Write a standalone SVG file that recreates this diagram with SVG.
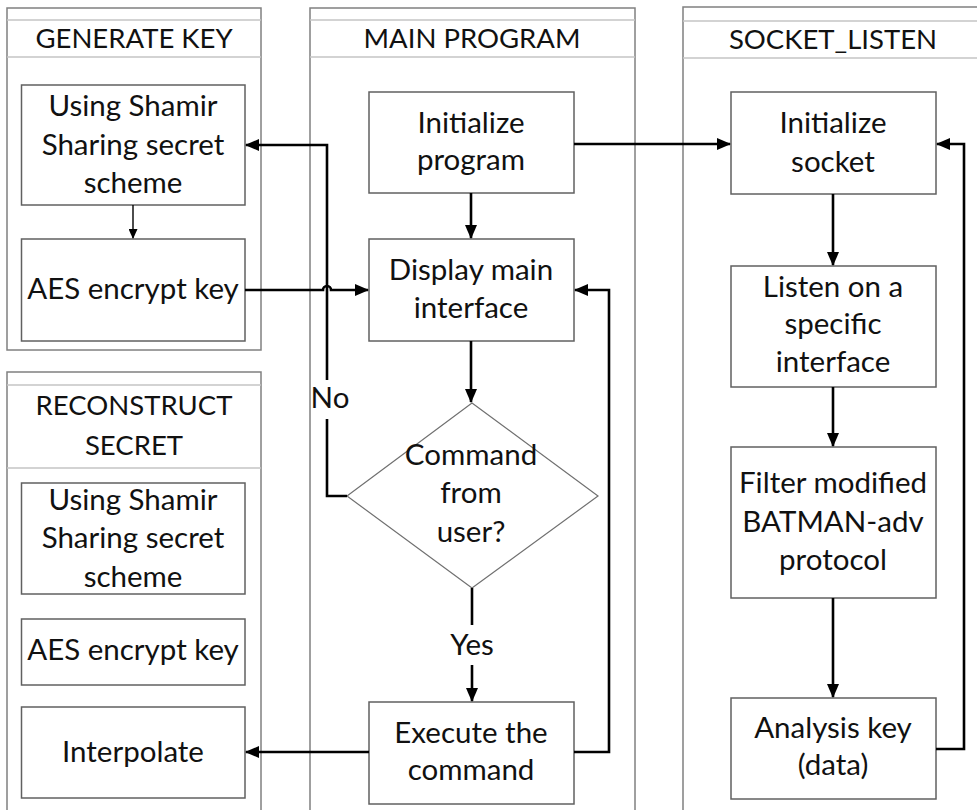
<svg xmlns="http://www.w3.org/2000/svg" width="977" height="810" viewBox="0 0 977 810">
<style>
.lane{fill:#fff;stroke:#808080;stroke-width:1.5}
.hl{stroke:#c4c4c4;stroke-width:1.3;fill:none}
.box{fill:#fff;stroke:#606060;stroke-width:1.5}
.dia{fill:#fff;stroke:#707070;stroke-width:1.2}
.t{font-family:Lato,"Liberation Sans",sans-serif;font-size:29.5px;fill:#111;text-anchor:middle}
.h{font-size:27.5px}
.c{fill:none;stroke:#000;stroke-width:2.6}
.thin{fill:none;stroke:#000;stroke-width:1.4}
</style>
<defs>
<marker id="ah" markerUnits="userSpaceOnUse" markerWidth="14" markerHeight="12" refX="13" refY="6" orient="auto">
<path d="M0,0 L14,6 L0,12 Z" fill="#000"/>
</marker>
<marker id="ahs" markerUnits="userSpaceOnUse" markerWidth="10" markerHeight="9" refX="9" refY="4.5" orient="auto">
<path d="M0,0 L10,4.5 L0,9 Z" fill="#000"/>
</marker>
</defs>
<rect width="977" height="810" fill="#fff"/>

<g id="lane-generate">
<rect class="lane" x="7" y="8" width="254" height="342"/>
<line class="hl" x1="7" y1="20" x2="261" y2="20"/>
<line class="hl" x1="7" y1="57" x2="261" y2="57"/>
<text class="t h" x="134" y="48">GENERATE KEY</text>
</g>
<g id="lane-main">
<rect class="lane" x="310" y="8" width="325" height="810"/>
<line class="hl" x1="310" y1="20" x2="635" y2="20"/>
<line class="hl" x1="310" y1="57" x2="635" y2="57"/>
<text class="t h" x="472" y="48">MAIN PROGRAM</text>
</g>
<g id="lane-socket">
<rect class="lane" x="683" y="7" width="310" height="810"/>
<line class="hl" x1="683" y1="21" x2="977" y2="21"/>
<line class="hl" x1="683" y1="58" x2="977" y2="58"/>
<text class="t h" x="833" y="49">SOCKET_LISTEN</text>
</g>
<g id="lane-reconstruct">
<rect class="lane" x="7" y="372" width="254" height="446"/>
<line class="hl" x1="7" y1="385" x2="261" y2="385"/>
<line class="hl" x1="7" y1="468" x2="261" y2="468"/>
<text class="t h" x="134" y="415">RECONSTRUCT</text>
<text class="t h" x="134" y="455">SECRET</text>
</g>

<g id="gen-shamir">
<rect class="box" x="21.5" y="85" width="223.5" height="120"/>
<text class="t" x="133" y="116">Using Shamir</text>
<text class="t" x="133" y="155">Sharing secret</text>
<text class="t" x="133" y="193">scheme</text>
</g>
<g id="gen-aes">
<rect class="box" x="21.5" y="239" width="223.5" height="102"/>
<text class="t" x="133" y="299">AES encrypt key</text>
</g>

<g id="rec-shamir">
<rect class="box" x="21.5" y="483" width="223.5" height="111"/>
<text class="t" x="133" y="510">Using Shamir</text>
<text class="t" x="133" y="548">Sharing secret</text>
<text class="t" x="133" y="587">scheme</text>
</g>
<g id="rec-aes">
<rect class="box" x="21.5" y="619" width="223.5" height="66"/>
<text class="t" x="133" y="660">AES encrypt key</text>
</g>
<g id="rec-interpolate">
<rect class="box" x="21.5" y="707" width="223.5" height="91"/>
<text class="t" x="133" y="762">Interpolate</text>
</g>

<g id="init-program">
<rect class="box" x="369" y="92" width="205" height="101"/>
<text class="t" x="471" y="133">Initialize</text>
<text class="t" x="471" y="170">program</text>
</g>
<g id="display-main">
<rect class="box" x="369" y="239" width="205" height="102"/>
<text class="t" x="471" y="280">Display main</text>
<text class="t" x="471" y="318">interface</text>
</g>
<g id="decision">
<polygon class="dia" points="472,403 598,496 472,588 347,496"/>
<text class="t" x="471" y="465">Command</text>
<text class="t" x="471" y="503">from</text>
<text class="t" x="471" y="542">user?</text>
</g>
<g id="execute">
<rect class="box" x="369" y="702" width="205" height="102"/>
<text class="t" x="471" y="743">Execute the</text>
<text class="t" x="471" y="780">command</text>
</g>

<g id="init-socket">
<rect class="box" x="731" y="92" width="205" height="102"/>
<text class="t" x="833" y="133">Initialize</text>
<text class="t" x="833" y="172">socket</text>
</g>
<g id="listen">
<rect class="box" x="731" y="266" width="205" height="121"/>
<text class="t" x="833" y="297">Listen on a</text>
<text class="t" x="833" y="334">specific</text>
<text class="t" x="833" y="372">interface</text>
</g>
<g id="filter">
<rect class="box" x="731" y="447" width="205" height="151"/>
<text class="t" x="833" y="493">Filter modified</text>
<text class="t" x="833" y="532">BATMAN-adv</text>
<text class="t" x="833" y="570">protocol</text>
</g>
<g id="analysis">
<rect class="box" x="731" y="698" width="205" height="101"/>
<text class="t" x="833" y="738">Analysis key</text>
<text class="t" x="833" y="775">(data)</text>
</g>

<g id="connectors">
<path class="thin" d="M133,205 V238" marker-end="url(#ahs)"/>
<path class="c" d="M471,193 V238" marker-end="url(#ah)"/>
<path class="c" d="M245,290 H323 A4,4 0 0 1 331,290 H368" marker-end="url(#ah)"/>
<path class="c" d="M471,341 V402" marker-end="url(#ah)"/>
<path class="c" d="M347,496 H327 V419"/>
<path class="c" d="M327,380 V145 H246" marker-end="url(#ah)"/>
<text class="t" x="330" y="408">No</text>
<path class="c" d="M472,588 V625"/>
<text class="t" x="472" y="655">Yes</text>
<path class="c" d="M472,665 V701" marker-end="url(#ah)"/>
<path class="c" d="M369,752 H246" marker-end="url(#ah)"/>
<path class="c" d="M574,752 H609 V290 H575" marker-end="url(#ah)"/>
<path class="c" d="M574,144 H730" marker-end="url(#ah)"/>
<path class="c" d="M833,194 V265" marker-end="url(#ah)"/>
<path class="c" d="M833,387 V446" marker-end="url(#ah)"/>
<path class="c" d="M833,598 V697" marker-end="url(#ah)"/>
<path class="c" d="M936,749 H964 V144 H937" marker-end="url(#ah)"/>
</g>
</svg>
